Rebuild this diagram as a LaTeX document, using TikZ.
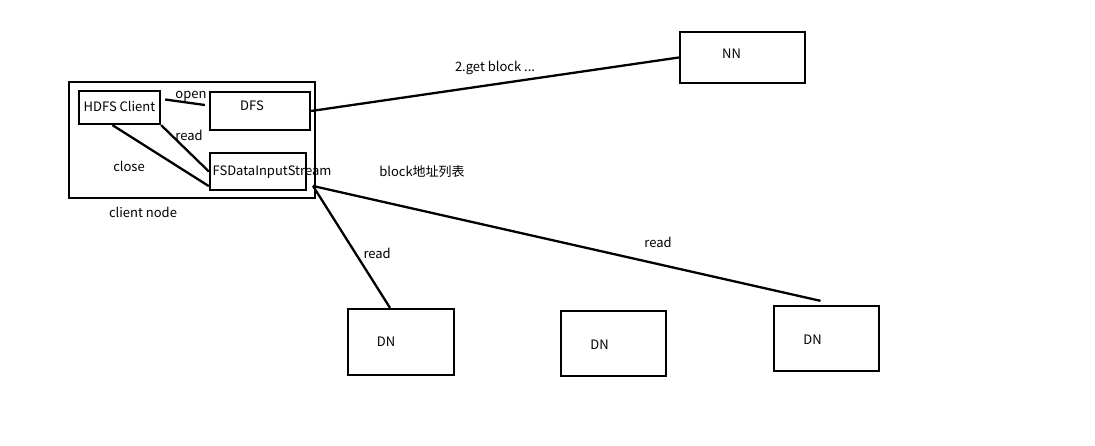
\documentclass[tikz,border=0pt]{standalone}
\usepackage{fontspec}
\setmainfont{Noto Sans CJK SC}
\usetikzlibrary{positioning}

\begin{document}
\begin{tikzpicture}[x=1pt,y=-1pt,line width=2.3pt,
    font=\fontsize{13}{15}\selectfont,
    box/.style={draw,inner sep=0pt},
    txt/.style={inner sep=1pt}]
  \useasboundingbox (0,0) rectangle (1095,446);
  % client side
  \node[box,minimum width=246,minimum height=116] (client) at (192,140) {};
  \node[txt] (clientlbl) at (143,212) {client node};
  \node[box,minimum width=81,minimum height=33,
        label={[txt,yshift=1]center:HDFS Client}] (hdfs) at (119.5,107.5) {};
  \node[box,minimum width=100,minimum height=38,
        label={[txt,xshift=-8,yshift=5]center:DFS}] (dfs) at (260,111) {};
  \node[box,minimum width=96,minimum height=37,
        label={[txt,xshift=14,yshift=-1]center:FSDataInputStream}] (fsd) at (258,171.5) {};
  % servers
  \node[box,minimum width=125,minimum height=51,
        label={[txt,xshift=-11,yshift=4]center:NN}] (nn) at (742.5,57.5) {};
  \node[box,minimum width=106,minimum height=66,
        label={[txt,xshift=-15]center:DN}] (dn1) at (401,342) {};
  \node[box,minimum width=105,minimum height=65,
        label={[txt,xshift=-14,yshift=-1]center:DN}] (dn2) at (613.5,343.5) {};
  \node[box,minimum width=105,minimum height=65,
        label={[txt,xshift=-14,yshift=-1]center:DN}] (dn3) at (826.5,338.5) {};
  \coordinate (out) at (313,186);
  % connectors
  \path
    ([xshift=4,yshift=8]hdfs.east) edge node[txt,pos=0.65,above=-1pt] {open} ([xshift=-4,yshift=6]dfs.west)
    (hdfs.south east) edge (fsd.west)
    ([xshift=-7]hdfs.south) edge ([yshift=5]fsd.south west)
    (dfs.east) edge node[txt,pos=0.5,above=7pt] {2.get block ...} (nn.west)
    (out) edge node[txt,pos=0.55,right=6pt] {read} ([xshift=-11]dn1.north)
    (out) edge node[txt,pos=0.68,above=14pt] {read} ([xshift=-6,yshift=4]dn3.north);
  \node[txt] (readlbl) at (189,135) {read};
  \node[txt] (closelbl) at (129,166) {close};
  \node[txt] (blocklbl) at (422,172) {block地址列表};
\end{tikzpicture}
\end{document}
